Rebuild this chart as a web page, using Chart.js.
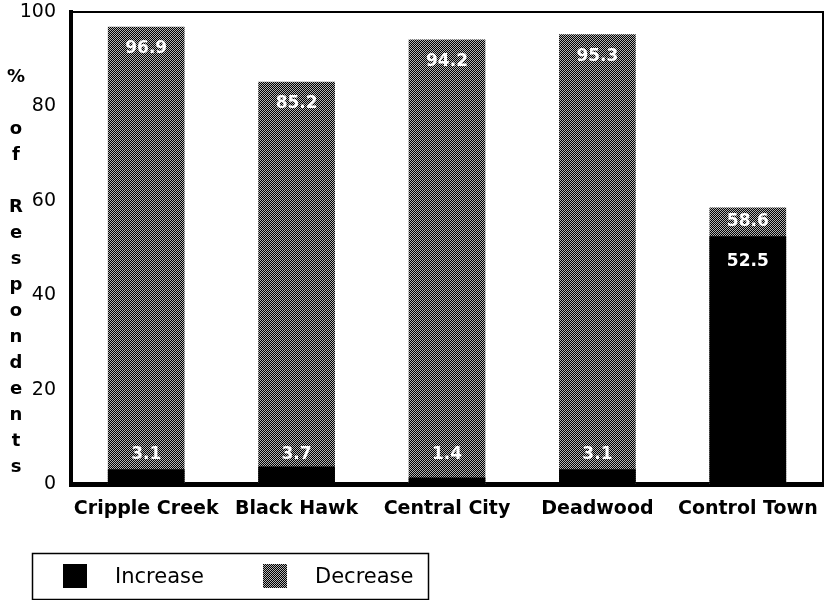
<!DOCTYPE html>
<html>
<head>
<meta charset="utf-8">
<script src="https://cdn.jsdelivr.net/npm/chart.js@4"></script>
<style>
  html, body { margin: 0; padding: 0; background: #fff; }
  #wrap { width: 829px; height: 600px; position: relative; }
</style>
</head>
<body>
<div id="wrap"><canvas id="myChart" width="829" height="600"></canvas></div>
<script>
// --- 1. DATA ---
const towns = ['Cripple Creek', 'Black Hawk', 'Central City', 'Deadwood', 'Control Town'];
const increaseVals = [3.1, 3.7, 1.4, 3.1, 52.5];
const decreaseVals = [96.9, 85.2, 94.2, 95.3, 58.6];
const yTicks = [0, 20, 40, 60, 80, 100];
const yTitleLines = ['%', '', 'o', 'f', '', 'R', 'e', 's', 'p', 'o', 'n', 'd', 'e', 'n', 't', 's'];

const FONT = '"DejaVu Sans", sans-serif';

// --- 2. HALFTONE PATTERN FOR "DECREASE" ---
function makeDots() {
    const c = document.createElement('canvas');
    c.width = 2; c.height = 2;
    const g = c.getContext('2d');
    g.fillStyle = '#000'; g.fillRect(0, 0, 2, 2);
    g.fillStyle = '#b4b4b4';
    g.fillRect(0, 0, 1, 1);
    g.fillRect(1, 1, 1, 1);
    return g.createPattern(c, 'repeat');
}
const dots = makeDots();

// --- 3. PLUGINS ---
// frame: thin top + right border
const framePlugin = {
    id: 'frame',
    beforeDatasetsDraw(chart) {
        const { ctx, chartArea: a } = chart;
        ctx.save();
        ctx.strokeStyle = '#000';
        ctx.lineWidth = 2;
        ctx.beginPath();
        ctx.moveTo(a.left - 2, a.top);
        ctx.lineTo(a.right, a.top);
        ctx.lineTo(a.right, a.bottom);
        ctx.stroke();
        ctx.restore();
    }
};

// vertical stacked y-axis title
const yTitlePlugin = {
    id: 'yTitle',
    afterDraw(chart) {
        const ctx = chart.ctx;
        ctx.save();
        ctx.fillStyle = '#000';
        ctx.font = 'bold 18px ' + FONT;
        ctx.textAlign = 'center';
        ctx.textBaseline = 'middle';
        yTitleLines.forEach((ch, i) => {
            if (ch) ctx.fillText(ch, 16, 77 + i * 26);
        });
        ctx.restore();
    }
};

// value labels inside the bars
const valuePlugin = {
    id: 'values',
    afterDatasetsDraw(chart) {
        const ctx = chart.ctx;
        const incMeta = chart.getDatasetMeta(0);
        const decMeta = chart.getDatasetMeta(1);
        ctx.save();
        ctx.fillStyle = '#fff';
        ctx.font = 'bold 17px ' + FONT;
        ctx.textAlign = 'center';
        ctx.textBaseline = 'middle';
        incMeta.data.forEach((el, i) => {
            const y = Math.min(el.y + 25, el.base - 29);
            ctx.fillText(increaseVals[i].toFixed(1), el.x, y);
        });
        decMeta.data.forEach((el, i) => {
            const incTop = incMeta.data[i].y;
            const y = Math.min(el.y + 22, (el.y + incTop) / 2);
            ctx.fillText(decreaseVals[i].toFixed(1), el.x, y);
        });
        ctx.restore();
    }
};

// boxed legend under the chart
const legendBoxPlugin = {
    id: 'legendBox',
    afterDraw(chart) {
        const ctx = chart.ctx;
        const sets = chart.data.datasets;
        ctx.save();
        ctx.strokeStyle = '#000';
        ctx.lineWidth = 1.5;
        ctx.strokeRect(32.5, 553.5, 396, 46);
        ctx.font = '21px ' + FONT;
        ctx.textBaseline = 'middle';
        const xs = [63, 263];
        sets.forEach((ds, i) => {
            ctx.fillStyle = ds.backgroundColor;
            ctx.fillRect(xs[i], 564, 24, 24);
            ctx.fillStyle = '#000';
            ctx.fillText(ds.label, xs[i] + 52, 578);
        });
        ctx.restore();
    }
};

// --- 4. CHART ---
new Chart(document.getElementById('myChart'), {
    type: 'bar',
    data: {
        labels: towns,
        datasets: [
            {
                label: 'Increase',
                data: increaseVals,
                backgroundColor: '#000',
                borderWidth: 0,
                barPercentage: 0.51,
                categoryPercentage: 1
            },
            {
                label: 'Decrease',
                data: decreaseVals,
                backgroundColor: dots,
                borderWidth: 0,
                barPercentage: 0.51,
                categoryPercentage: 1
            }
        ]
    },
    options: {
        responsive: false,
        animation: false,
        layout: { padding: { top: 12, right: 6, left: 0, bottom: 0 } },
        plugins: {
            legend: { display: false },
            tooltip: { enabled: false }
        },
        scales: {
            x: {
                stacked: true,
                grid: { display: false },
                border: { display: true, color: '#000', width: 5 },
                ticks: {
                    color: '#000',
                    font: { family: FONT, size: 19, weight: 'bold' },
                    padding: 6,
                    maxRotation: 0,
                    autoSkip: false
                },
                afterFit(scale) { scale.height = 116; }
            },
            y: {
                stacked: false,
                min: 0,
                max: 100,
                grid: { display: false },
                border: { display: true, color: '#000', width: 4 },
                afterBuildTicks(scale) { scale.ticks = yTicks.map(v => ({ value: v })); },
                ticks: {
                    color: '#000',
                    font: { family: FONT, size: 19 },
                    padding: 7
                },
                afterFit(scale) {
                    scale.width = 71;
                    scale.paddingTop = 0;
                    scale.paddingBottom = 0;
                }
            }
        }
    },
    plugins: [framePlugin, valuePlugin, yTitlePlugin, legendBoxPlugin]
});
</script>
</body>
</html>
